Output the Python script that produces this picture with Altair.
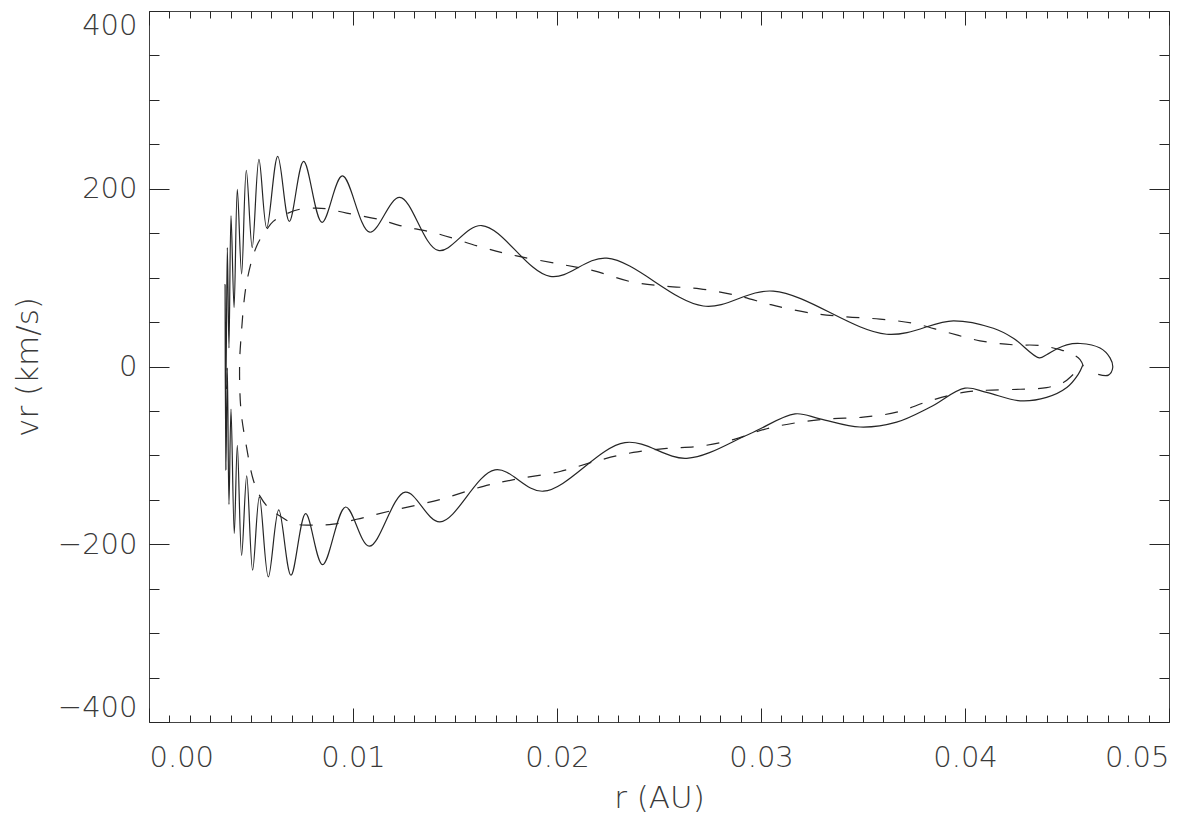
import altair as alt
import pandas as pd

# ---- data (r in AU, vr in km/s) ----
solid_r = [0.04577, 0.04555, 0.04499, 0.04400, 0.04270, 0.04106, 0.04000, 0.03828, 0.03665, 0.03485,
           0.03289, 0.03167, 0.02946, 0.02636, 0.02333, 0.01933, 0.01696, 0.01426, 0.01256, 0.01080,
           0.00964, 0.00851, 0.00768, 0.00696, 0.00636, 0.00585, 0.00541, 0.00508, 0.00479, 0.00454,
           0.00433, 0.00418, 0.00402, 0.00392, 0.00384, 0.00377, 0.00373, 0.00377, 0.00384, 0.00392,
           0.00402, 0.00417, 0.00433, 0.00454, 0.00477, 0.00506, 0.00539, 0.00577, 0.00631, 0.00688,
           0.00758, 0.00848, 0.00948, 0.01082, 0.01229, 0.01418, 0.01631, 0.01966, 0.02244, 0.02717,
           0.03060, 0.03616, 0.03943, 0.04139, 0.04237, 0.04364, 0.04400, 0.04449, 0.04499, 0.04564,
           0.04662, 0.04711, 0.04724, 0.04703, 0.04653]
solid_vr = [1.4, -8.9, -23.7, -34.8, -38.6, -29.2, -24.4, -45.9, -62.6, -68.1,
            -58.9, -53.3, -75.6, -103.3, -85.6, -140.3, -116.3, -174.8, -141.4, -202.2,
            -158.1, -223.0, -165.6, -234.8, -161.4, -236.7, -146.7, -229.2, -123.0, -212.6,
            -88.6, -187.8, -47.8, -155.2, -1.4, -116.3, 92.2, -25.6, 133.7, 20.8,
            169.7, 66.3, 199.2, 104.1, 220.8, 133.7, 233.0, 155.9, 236.4, 163.3,
            230.8, 162.2, 214.4, 151.1, 190.3, 130.6, 158.6, 101.4, 121.9, 68.1,
            84.8, 36.3, 51.4, 43.0, 31.9, 9.7, 13.3, 19.7, 24.4, 25.9,
            20.8, 9.7, -1.4, -9.7, -8.9]

dashed_r = [0.04580, 0.04564, 0.04515, 0.04466, 0.04368, 0.04237, 0.04074, 0.03910, 0.03747, 0.03583,
            0.03420, 0.03256, 0.03093, 0.03028, 0.02864, 0.02701, 0.02538, 0.02374, 0.02178, 0.02015,
            0.01802, 0.01639, 0.01410, 0.01230, 0.01132, 0.00969, 0.00871, 0.00822, 0.00740, 0.00675,
            0.00609, 0.00577, 0.00528, 0.00479, 0.00451, 0.00444, 0.00451, 0.00475, 0.00511, 0.00544,
            0.00593, 0.00642, 0.00707, 0.00805, 0.00903, 0.01018, 0.01181, 0.01426, 0.01639, 0.01802,
            0.02015, 0.02211, 0.02374, 0.02538, 0.02701, 0.02864, 0.03028, 0.03191, 0.03338, 0.03501,
            0.03665, 0.03828, 0.03992, 0.04106, 0.04270, 0.04400, 0.04482, 0.04531, 0.04575]
dashed_vr = [0.3, 7.8, 15.2, 18.9, 23.7, 24.4, 28.9, 38.6, 48.6, 53.3,
             55.9, 59.7, 67.0, 70.8, 80.8, 87.4, 90.3, 94.8, 107.8, 115.2,
             124.4, 133.7, 149.7, 158.6, 165.2, 172.6, 177.4, 178.1, 177.0, 171.9,
             163.3, 154.1, 135.6, 94.8, 32.2, 0.0, -49.7, -86.7, -127.4, -145.9,
             -160.8, -168.1, -176.7, -178.6, -177.4, -171.9, -162.6, -149.7, -134.8, -126.7,
             -118.1, -105.2, -96.7, -92.2, -89.7, -82.2, -70.0, -62.6, -58.9, -57.0,
             -51.4, -38.6, -29.2, -26.7, -25.6, -23.7, -18.1, -8.9, 0.0]

x_major = [0.00, 0.01, 0.02, 0.03, 0.04, 0.05]
y_major = [-400, -200, 0, 200, 400]
x_minor = [i / 1000 for i in range(51) if i % 10 != 0]
y_minor = [v for v in range(-400, 401, 50) if v % 200 != 0]

solid_df = pd.DataFrame({"r": solid_r, "vr": solid_vr, "seq": list(range(len(solid_r)))})
dashed_df = pd.DataFrame({"r": dashed_r, "vr": dashed_vr, "seq": list(range(len(dashed_r)))})

XS = alt.Scale(domain=[0, 0.05], nice=False, zero=False)
YS = alt.Scale(domain=[-400, 400], nice=False, zero=False)
INK = "#262626"
TXT = "#3a3a3a"
FONT = "DejaVu Sans"


def xaxis(orient, values, size, labels, title=None):
    kw = dict(orient=orient, values=values, tickSize=size, offset=-size, domain=False, grid=False,
              labels=labels, tickColor=INK, tickWidth=1)
    if labels:
        kw.update(format=".2f", labelPadding=21, labelFontSize=29, labelFont=FONT,
                  labelFontWeight=200, labelColor=TXT)
    if title:
        kw.update(title=title, titleFont=FONT, titleFontSize=31, titleFontWeight=200,
                  titleColor=TXT, titlePadding=11)
    else:
        kw.update(title=None)
    return alt.Axis(**kw)


def yaxis(orient, values, size, labels, title=None):
    kw = dict(orient=orient, values=values, tickSize=size, offset=-size, domain=False, grid=False,
              labels=labels, tickColor=INK, tickWidth=1)
    if labels:
        kw.update(format="d", labelPadding=12, labelFontSize=29, labelFont=FONT,
                  labelFontWeight=200, labelColor=TXT, labelFlush=True)
    if title:
        kw.update(title=title, titleFont=FONT, titleFontSize=31, titleFontWeight=200,
                  titleColor=TXT, titlePadding=13)
    else:
        kw.update(title=None)
    return alt.Axis(**kw)


solid = alt.Chart(solid_df).mark_line(color=INK, strokeWidth=1.2, interpolate="catmull-rom").encode(
    x=alt.X("r:Q", scale=XS, axis=xaxis("bottom", x_major, 14, True, "r (AU)")),
    y=alt.Y("vr:Q", scale=YS, axis=yaxis("left", y_major, 20, True, "vr (km/s)")),
    order=alt.Order("seq:Q"),
)

dashed = alt.Chart(dashed_df).mark_line(color=INK, strokeWidth=1.2, strokeDash=[13, 13],
                                        interpolate="catmull-rom").encode(
    x=alt.X("r:Q", scale=XS, axis=xaxis("top", x_major, 14, False)),
    y=alt.Y("vr:Q", scale=YS, axis=yaxis("right", y_major, 20, False)),
    order=alt.Order("seq:Q"),
)

minor_a = alt.Chart(dashed_df).mark_line(opacity=0).encode(
    x=alt.X("r:Q", scale=XS, axis=xaxis("bottom", x_minor, 7, False)),
    y=alt.Y("vr:Q", scale=YS, axis=yaxis("left", y_minor, 10, False)),
    order=alt.Order("seq:Q"),
)

minor_b = alt.Chart(dashed_df).mark_line(opacity=0).encode(
    x=alt.X("r:Q", scale=XS, axis=xaxis("top", x_minor, 7, False)),
    y=alt.Y("vr:Q", scale=YS, axis=yaxis("right", y_minor, 10, False)),
    order=alt.Order("seq:Q"),
)

chart = (
    alt.layer(solid, dashed, minor_a, minor_b)
    .resolve_axis(x="independent", y="independent")
    .properties(
        width=1020,
        height=711,
        padding={"left": 141, "top": 3, "right": 20, "bottom": 95},
        autosize=alt.AutoSizeParams(type="none"),
        background="white",
    )
    .configure_view(stroke="#444", strokeWidth=1)
)

chart.save("out.html", embed_options={"renderer": "svg", "actions": False})
